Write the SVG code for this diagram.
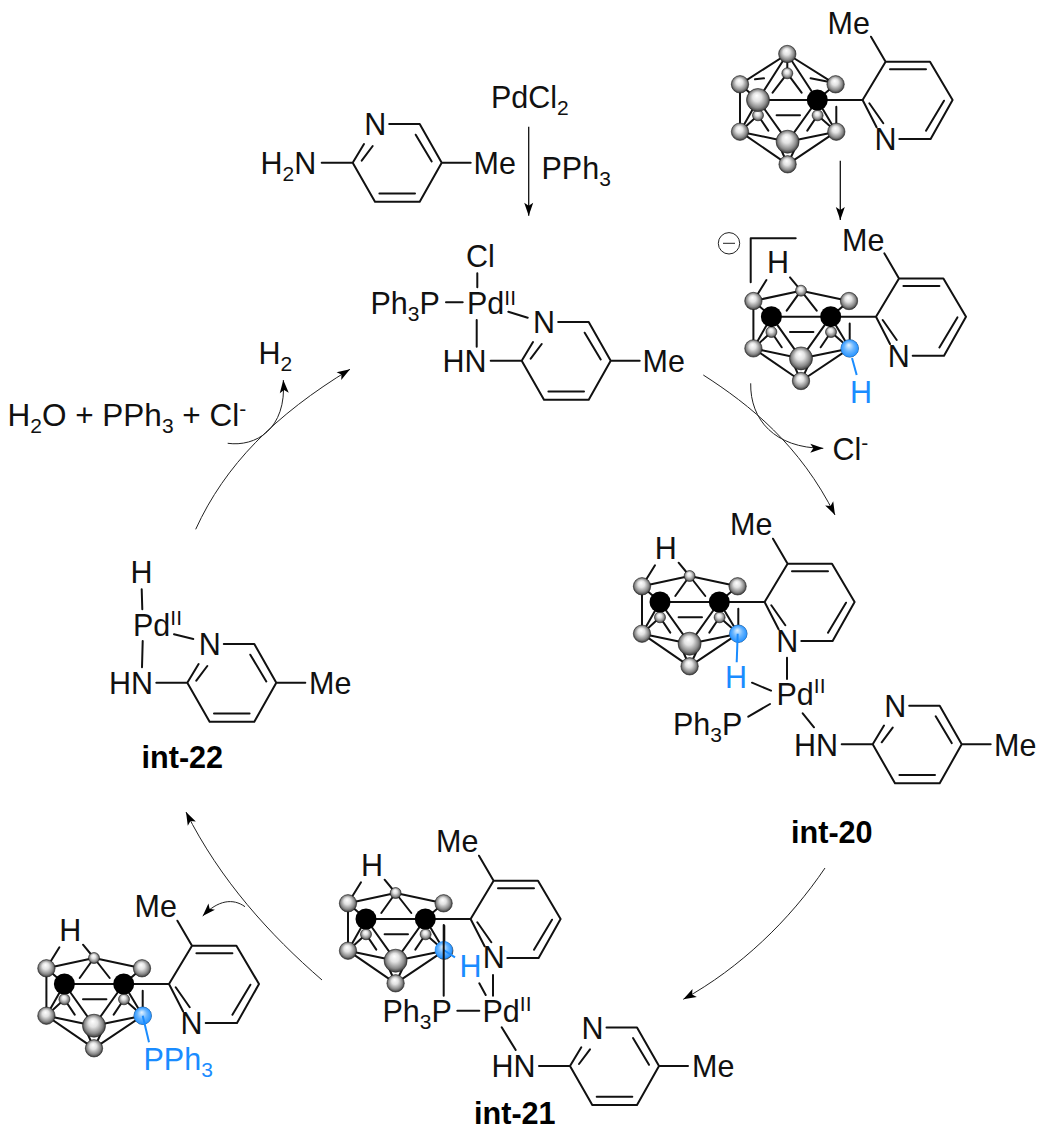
<svg xmlns="http://www.w3.org/2000/svg" width="1046" height="1146" viewBox="0 0 1046 1146">
<style>
text{font-family:"Liberation Sans",Arial,sans-serif;font-size:30.5px;fill:#111}
.s{font-size:21px}
.bold{font-weight:bold;font-size:30.6px;fill:#000}
.blue{fill:#1a8cff}
.bond{fill:none;stroke:#111;stroke-width:2;stroke-linecap:round;stroke-linejoin:round}
.bb{fill:none;stroke:#1a8cff;stroke-width:2}
.arc{fill:none;stroke:#222;stroke-width:1}
.st{fill:none;stroke:#111;stroke-width:1.3}
.sp{fill:url(#ball);stroke:#222;stroke-width:.6}
.bk{fill:#000}
.bl{fill:url(#bball);stroke:#1a8cff;stroke-width:.5}
</style>
<defs>
<radialGradient id="ball" cx=".5" cy=".5" r=".55" fx=".44" fy=".3"><stop offset="0" stop-color="#fff"/><stop offset=".35" stop-color="#e2e2e2"/><stop offset=".72" stop-color="#8a8a8a"/><stop offset="1" stop-color="#222"/></radialGradient>
<radialGradient id="bball" cx=".5" cy=".5" r=".55" fx=".44" fy=".3"><stop offset="0" stop-color="#e4f3ff"/><stop offset=".5" stop-color="#6ab6ff"/><stop offset="1" stop-color="#1a8cff"/></radialGradient>
<marker id="ah" markerUnits="userSpaceOnUse" markerWidth="15" markerHeight="11" viewBox="0 0 15 11" refX="14" refY="5.5" orient="auto"><path d="M1 1L14 5.5L1 10L4 5.5Z" fill="#000"/></marker>
<g id="pyr"><path class="bond" d="M0 0H45.3L68.3-38.3H112.7L135.3 0L113.3 39H82M45.3 0L59.3 27.3M52 3.3L66 23.3M72.7-30.7H108.7M126.7 .7L108.7 30.7M68.3-38.3L53.7-63.3"/></g>
<g id="ampy"><path class="bond" d="M-31 0H0L11.3-18.7M36.5-38.6H67L89 0H118M89 0L67 39H22.3L0 0M9-2L20-16.7M79-1.2L63-28M26.7 30.7H62.3"/></g>
<g id="lo"><path class="bond" d="M-59.3 0L-77.3 31.7M-59.3 0L-29.7 41.7M0 0L-29.7 41.7M0 0L19 31.7M19 6.7V26M-40.7 15.3H-17.3M-77.3 31.7L-29.7 41.7L19 31.7M-77.3 31.7L-29.7 64.3L19 31.7M-36 50L-29.7 64.3L-23 50M-59.3 15.3L-77.3 31.7M-59.3 15.3L-49 30.6M.3 15.3L19 31.7M.3 15.3L-10 30.6M-59.3 0H0M-77.3-15.7V31.7M-77.3-15.7L-59.3 0M18.3-15.7L0 0"/></g>
<g id="hiA"><path class="bond" d="M-77.3-15.7L-30-46L18.3-15.7M-30-46L-59.3 0M-30-46L0 0M-30-46V-26.7M-30-26.7L-44.7-7.3M-30-26.7L-15.7-7.3M-62.3-20.7L-53.3-21.7M-6.7-21.7L11-18.3"/></g>
<g id="hiH"><path class="bond" d="M-77.3-15.7L-29.7-26L18.3-15.7M-29.7-26L-44-6M-29.7-26L-14-6M-64.3-36.7L-77.3-15.7M-40.7-39.3L-29.7-26"/></g>
<g id="spBase">
<circle class="sp" cx="-77.3" cy="-15.7" r="8.7"/><circle class="sp" cx="18.3" cy="-15.7" r="8.7"/>
<circle class="sp" cx="-59.3" cy="15.3" r="5.5"/><circle class="sp" cx=".3" cy="15.3" r="5.5"/>
<circle class="sp" cx="-77.3" cy="31.7" r="8.7"/><circle class="sp" cx="19" cy="31.7" r="8.7"/>
<circle class="sp" cx="-29.7" cy="64.3" r="8.7"/><circle class="sp" cx="-29.7" cy="41.7" r="11.5"/>
<circle class="bk" cx="0" cy="0" r="10.5"/>
</g>
<g id="cageH"><use href="#pyr"/><use href="#lo"/><use href="#hiH"/><use href="#spBase"/><circle class="sp" cx="-29.7" cy="-26" r="5.5"/><circle class="bk" cx="-59.3" cy="0" r="10.5"/></g>
<g id="cageA"><use href="#pyr"/><use href="#lo"/><use href="#hiA"/><use href="#spBase"/><circle class="sp" cx="-30" cy="-46" r="8.7"/><circle class="sp" cx="-30" cy="-26.7" r="5.5"/><circle class="sp" cx="-59.3" cy="0" r="11.5"/></g>
</defs>
<rect width="1046" height="1146" fill="#fff"/>

<g id="connectors">
<path class="st" marker-end="url(#ah)" d="M528.7 126.7V215.7"/>
<path class="st" marker-end="url(#ah)" d="M840.3 160.7V220"/>
<path class="arc" marker-end="url(#ah)" d="M703.3 375C750 405 800 445 835 515"/>
<path class="arc" marker-end="url(#ah)" d="M750.7 383.3C750 420 775 448 823.3 448.3"/>
<path class="arc" marker-end="url(#ah)" d="M825 868C790 920 740 968 683.3 999.3"/>
<path class="arc" marker-end="url(#ah)" d="M322 980C270 935 220 880 186 812"/>
<path class="arc" marker-end="url(#ah)" d="M245 906.7C233 898 218 900 202.7 916"/>
<path class="arc" marker-end="url(#ah)" d="M195.7 529.3C225 465 275 415 350 369.3"/>
<path class="arc" marker-end="url(#ah)" d="M227.7 443.3C255 447 287 430 283.3 380"/>
</g>

<g id="reagent-pdcl2"><text x="491" y="107.5">PdCl<tspan class="s" dy="7">2</tspan></text></g>
<g id="reagent-pph3"><text x="541.5" y="178.5">PPh<tspan class="s" dy="7">3</tspan></text></g>
<g id="reagent-aminopyridine">
<use href="#ampy" x="352.7" y="162.7"/>
<text x="260.5" y="173.5">H<tspan class="s" dy="7">2</tspan><tspan dy="-7">N</tspan></text>
<text x="364.2" y="135.2">N</text><text x="473.5" y="173.5">Me</text>
</g>

<g id="carborane-start">
<use href="#cageA" x="817.3" y="100"/>
<text x="827.5" y="33.5">Me</text><text x="874.5" y="150">N</text>
</g>

<g id="carborane-anion">
<use href="#cageH" x="830.7" y="316.7"/>
<circle class="bl" cx="849.7" cy="348.4" r="8.7"/>
<path class="bb" d="M852 358L856.7 375"/>
<path class="bond" d="M750.7 282.3V238.3H795.7"/>
<circle cx="729" cy="243.3" r="10.7" fill="none" stroke="#222" stroke-width="1"/><path d="M723 243.3H735" stroke="#222" stroke-width="1"/>
<text x="842" y="250.7">Me</text><text x="887.8" y="366.7">N</text><text x="767" y="273.3">H</text>
<text class="blue" x="850" y="403.3">H</text>
</g>
<g id="chloride"><text x="832.5" y="459.5">Cl<tspan class="s" dy="-10">-</tspan></text></g>

<g id="pd-complex">
<use href="#ampy" x="521.7" y="360.7"/>
<path class="bond" d="M477.3 273.3V287.3M446 302.3H462.7M508.3 311.7L527.7 317.7M476.7 320V346.7"/>
<text x="466" y="266.7">Cl</text>
<text x="370.5" y="314">Ph<tspan class="s" dy="7">3</tspan><tspan dy="-7">P</tspan></text>
<text x="467" y="314">Pd<tspan class="s" dy="-9">II</tspan></text>
<text x="533" y="333.3">N</text><text x="442.5" y="371.7">HN</text><text x="642.5" y="371.7">Me</text>
</g>

<g id="int-20">
<use href="#cageH" x="719.3" y="602"/>
<circle class="bl" cx="738.3" cy="633.7" r="8.7"/>
<path class="bb" d="M737.7 633.7L736.7 662.3"/>
<use href="#ampy" x="872.7" y="744.3"/>
<path class="bond" d="M787 657.7V679M752 682.7L771 690.7M748.3 716.7L770 704M802.7 713.3L814 727.3"/>
<text x="730" y="535">Me</text><text x="776.2" y="652.3">N</text>
<text x="654.8" y="558.7">H</text>
<text class="blue" x="725" y="688.3">H</text>
<text x="776.5" y="705">Pd<tspan class="s" dy="-12">II</tspan></text>
<text x="673" y="735">Ph<tspan class="s" dy="7">3</tspan><tspan dy="-7">P</tspan></text>
<text x="794" y="756">HN</text><text x="884.2" y="716.5">N</text><text x="994" y="755.5">Me</text>
<text class="bold" x="791" y="842.7">int-20</text>
</g>

<g id="int-21">
<use href="#cageH" x="425.3" y="919"/>
<circle class="bl" cx="443.7" cy="950" r="8.7"/>
<path class="bb" d="M443.7 950L455 957.3"/>
<path class="bond" d="M443.7 925V995.7M457.3 1010.7H479.3M479.3 983.3L485.7 995M493 975V995.7M501.7 1027.3L515.7 1050"/>
<use href="#ampy" x="570" y="1066"/>
<text x="436" y="851.7">Me</text><text x="482.8" y="968.3">N</text><text x="361" y="875.7">H</text>
<text class="blue" x="459.5" y="977.3">H</text>
<text x="382.5" y="1021.7">Ph<tspan class="s" dy="7">3</tspan><tspan dy="-7">P</tspan></text>
<text x="482.5" y="1021.7">Pd<tspan class="s" dy="-11">II</tspan></text>
<text x="491.5" y="1077.3">HN</text><text x="581.5" y="1038.5">N</text><text x="692" y="1077">Me</text>
<text class="bold" x="474" y="1124">int-21</text>
</g>

<g id="int-22">
<use href="#ampy" x="187.3" y="682.7"/>
<path class="bond" d="M141.7 589.3L142.3 609.3M174 634.3L193.3 639M142.7 641L142 667.3"/>
<text x="130.5" y="583.3">H</text>
<text x="133" y="636">Pd<tspan class="s" dy="-11">II</tspan></text>
<text x="198.8" y="655.2">N</text><text x="109" y="693.5">HN</text><text x="309" y="693.5">Me</text>
<text class="bold" x="141.5" y="768.3">int-22</text>
</g>

<g id="product-phosphonium">
<use href="#cageH" x="123.7" y="984"/>
<circle class="bl" cx="142.7" cy="1015.7" r="8.7"/>
<path class="bb" d="M142.7 1015.7L149 1042.3"/>
<text x="134.5" y="916.7">Me</text><text x="180.5" y="1034">N</text><text x="59.3" y="940.7">H</text>
<text class="blue" x="143.5" y="1070">PPh<tspan class="s" dy="7">3</tspan></text>
</g>

<g id="byproducts">
<text x="258.5" y="363.5">H<tspan class="s" dy="7">2</tspan></text>
<text x="7.5" y="426" style="font-size:31.5px">H<tspan class="s" dy="7">2</tspan><tspan dy="-7">O + PPh</tspan><tspan class="s" dy="7">3</tspan><tspan dy="-7"> + Cl</tspan><tspan class="s" dy="-10">-</tspan></text>
</g>
</svg>
